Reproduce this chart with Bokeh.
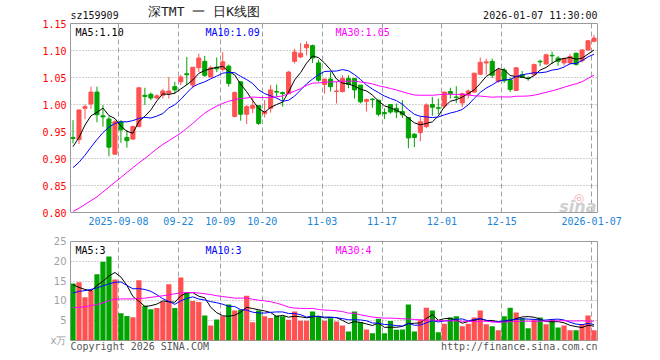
from bokeh.plotting import figure
from bokeh.models import Range1d, FixedTicker, Label, ColumnDataSource, PrintfTickFormatter, LinearAxis
from bokeh.layouts import column
from bokeh.embed import file_html
from bokeh.resources import INLINE

# ---------------- data ----------------
symbol = "sz159909"
title_text = "深TMT 一 日K线图"
timestamp = "2026-01-07 11:30:00"

date_labels = ["2025-09-08", "09-22", "10-09", "10-20", "11-03", "11-17", "12-01", "12-15", "2026-01-07"]
date_index = [8, 18, 25, 32, 42, 52, 62, 72, 87]

price_ticks = [0.80, 0.85, 0.90, 0.95, 1.00, 1.05, 1.10, 1.15]
price_grid = [0.85, 0.90, 0.95, 1.00, 1.05, 1.10]
volume_ticks = [0, 5, 10, 15, 20, 25]
volume_grid = [5, 10, 15, 20]
volume_unit = "x万"

opens = [0.939, 0.935, 0.993, 1.001, 1.023, 0.979, 0.973, 0.908, 0.968, 0.939,
         0.936, 0.959, 1.017, 1.019, 1.012, 1.017, 1.021, 1.033, 1.042, 1.057,
         1.036, 1.068, 1.080, 1.051, 1.069, 1.065, 1.071, 0.978, 1.042, 0.982,
         0.993, 0.998, 0.983, 0.993, 1.024, 1.022, 1.020, 1.080, 1.088, 1.105,
         1.109, 1.077, 1.037, 1.047, 1.024, 1.024, 1.048, 1.048, 1.036, 1.006,
         1.010, 1.008, 0.985, 1.000, 0.993, 0.987, 0.976, 0.945, 0.948, 0.959,
         1.000, 0.994, 0.997, 1.024, 1.014, 1.003, 1.018, 1.023, 1.056, 1.077,
         1.080, 1.043, 1.064, 1.046, 1.026, 1.055, 1.049, 1.055, 1.080, 1.075,
         1.091, 1.086, 1.077, 1.077, 1.095, 1.081, 1.101, 1.117]
highs = [0.971, 0.990, 1.000, 1.033, 1.033, 0.999, 0.978, 0.971, 0.971, 0.953,
         0.961, 1.031, 1.031, 1.022, 1.019, 1.029, 1.051, 1.042, 1.055, 1.088,
         1.069, 1.094, 1.090, 1.072, 1.087, 1.097, 1.074, 1.024, 1.043, 0.999,
         1.012, 0.998, 1.008, 1.036, 1.037, 1.024, 1.062, 1.103, 1.114, 1.117,
         1.111, 1.083, 1.048, 1.060, 1.042, 1.054, 1.054, 1.048, 1.036, 1.011,
         1.012, 1.008, 0.993, 1.000, 1.002, 1.008, 0.976, 0.947, 0.978, 1.002,
         1.014, 1.011, 1.024, 1.031, 1.034, 1.022, 1.028, 1.058, 1.087, 1.085,
         1.085, 1.068, 1.068, 1.050, 1.069, 1.062, 1.052, 1.076, 1.083, 1.094,
         1.098, 1.090, 1.087, 1.094, 1.096, 1.102, 1.119, 1.129]
lows = [0.928, 0.927, 0.973, 0.992, 0.967, 0.959, 0.904, 0.907, 0.929, 0.920,
        0.934, 0.958, 0.999, 1.008, 1.010, 1.011, 1.011, 1.020, 1.036, 1.036,
        1.030, 1.060, 1.051, 1.050, 1.060, 1.061, 1.033, 0.976, 0.970, 0.964,
        0.984, 0.962, 0.976, 0.985, 1.014, 0.996, 1.019, 1.076, 1.086, 1.091,
        1.077, 1.042, 1.020, 1.024, 1.002, 1.022, 1.030, 1.011, 1.002, 0.987,
        0.994, 0.978, 0.973, 0.983, 0.975, 0.975, 0.919, 0.921, 0.932, 0.956,
        0.979, 0.982, 0.993, 1.011, 1.003, 0.995, 1.011, 1.022, 1.054, 1.055,
        1.049, 1.040, 1.040, 1.023, 1.025, 1.049, 1.044, 1.054, 1.071, 1.074,
        1.075, 1.072, 1.072, 1.074, 1.072, 1.078, 1.100, 1.115]
closes = [0.937, 0.990, 0.996, 1.023, 0.981, 0.977, 0.921, 0.968, 0.953, 0.933,
          0.959, 1.031, 1.015, 1.012, 1.016, 1.025, 1.025, 1.027, 1.051, 1.055,
          1.069, 1.086, 1.054, 1.068, 1.066, 1.079, 1.039, 1.022, 0.982, 0.996,
          0.998, 0.965, 0.987, 1.027, 1.023, 1.020, 1.060, 1.097, 1.095, 1.111,
          1.086, 1.045, 1.047, 1.033, 1.025, 1.048, 1.037, 1.027, 1.005, 1.009,
          1.009, 0.982, 0.983, 0.986, 0.986, 0.981, 0.938, 0.939, 0.968, 0.999,
          0.995, 0.993, 1.023, 1.020, 1.013, 1.020, 1.025, 1.058, 1.078, 1.079,
          1.054, 1.064, 1.044, 1.028, 1.068, 1.050, 1.048, 1.074, 1.079, 1.092,
          1.090, 1.080, 1.085, 1.089, 1.074, 1.101, 1.118, 1.123]
volumes = [14.4, 14.7, 10.9, 12.7, 16.7, 19.9, 21.2, 15.4, 6.9, 6.2,
           5.9, 15.2, 8.8, 7.9, 8.2, 9.8, 14.2, 8.2, 15.9, 12.1,
           10.0, 9.7, 6.3, 3.8, 5.3, 6.1, 9.1, 7.6, 7.75, 11.3,
           4.6, 7.6, 6.1, 5.7, 6.3, 6.1, 5.25, 7.3, 5.0, 5.0,
           7.3, 6.2, 5.0, 5.6, 4.8, 3.8, 2.3, 7.3, 4.7, 2.8,
           1.8, 5.5, 1.8, 4.9, 2.7, 2.8, 9.1, 2.3, 5.3, 8.3,
           7.6, 2.1, 4.25, 5.8, 6.1, 3.6, 4.2, 5.8, 7.6, 4.1,
           3.6, 2.6, 6.1, 8.3, 7.1, 5.6, 3.1, 5.3, 5.8, 4.1,
           5.3, 3.3, 3.8, 2.6, 2.6, 4.0, 6.3, 2.6]

# moving-average values for days whose window reaches before the visible range
ma5_head = [0.922, 0.939, 0.962, 0.979]
ma10_head = [0.883, 0.893, 0.906, 0.921, 0.935, 0.948, 0.958, 0.965, 0.968]
ma30_head = [0.802, 0.808, 0.815, 0.822, 0.829, 0.838, 0.847, 0.856, 0.865, 0.874,
             0.883, 0.892, 0.900, 0.909, 0.918, 0.926, 0.933, 0.940, 0.947, 0.956,
             0.965, 0.975, 0.984, 0.991, 0.997, 1.002, 1.006, 1.009, 1.011]
vma5_head = [14.1, 13.4, 12.9, 12.5]
vma10_head = [12.0, 12.4, 12.6, 12.9, 13.3, 13.8, 14.3, 14.7, 14.8]
vma30_head = [8.3, 8.4, 8.5, 8.8, 9.1, 9.5, 10.1, 10.4, 10.5, 10.5,
              10.5, 10.6, 10.7, 10.9, 11.1, 11.3, 11.5, 11.8, 12.0, 12.1,
              12.1, 12.0, 11.8, 11.6, 11.3, 11.1, 10.9, 10.7, 10.7]

price_ma_labels = ["MA5:1.10", "MA10:1.09", "MA30:1.05"]
volume_ma_labels = ["MA5:3", "MA10:3", "MA30:4"]
copyright_text = "Copyright 2026 SINA.COM"
url_text = "http://finance.sina.com.cn"


def moving_average(values, n, head):
    out = list(head)
    for i in range(len(head), len(values)):
        out.append(sum(values[i - n + 1:i + 1]) / n)
    return out


UP = "#ff5151"
DOWN = "#00a300"
MA_COLORS = ["#000000", "#0000ff", "#ff00ff"]
GRID = "#a0a0a0"
MONO = "DejaVu Sans Mono"
CHAR_W = 6.02  # width of one 10px monospace character

N = len(closes)
xs = list(range(N))
colors = [UP if c >= o else DOWN for o, c in zip(opens, closes)]
src = ColumnDataSource(dict(
    x=xs, open=opens, close=closes, high=highs, low=lows, vol=volumes, color=colors,
    top=[max(o, c) for o, c in zip(opens, closes)],
    bot=[min(o, c) for o, c in zip(opens, closes)],
    ma5=moving_average(closes, 5, ma5_head),
    ma10=moving_average(closes, 10, ma10_head),
    ma30=moving_average(closes, 30, ma30_head),
    vma5=moving_average(volumes, 5, vma5_head),
    vma10=moving_average(volumes, 10, vma10_head),
    vma30=moving_average(volumes, 30, vma30_head),
))

# ---------------- geometry (page pixels) ----------------
W = 660
H1, H2 = 230, 130
X0, X1 = -0.42, N - 0.42
FRAME_L, FRAME_R = 70, 597
P_TOP, P_BOT = 20, 212
V_TOP, V_BOT = 241, 340
slot = (FRAME_R - FRAME_L) / (X1 - X0)


def dx(X):
    return X0 + (X - FRAME_L) / slot


def dp(Y):
    return 1.15 - (Y - P_TOP) * 0.35 / (P_BOT - P_TOP)


def dv(Y):
    return 25 - (Y - V_TOP) * 25.0 / (V_BOT - V_TOP)


xr = Range1d(X0, X1)
tick_x = [i - 0.4 for i in date_index]


def plain_axis(ax, size="10px", font=MONO):
    ax.axis_line_color = None
    ax.major_tick_line_color = None
    ax.minor_tick_line_color = None
    ax.major_tick_out = 0
    ax.major_tick_in = 0
    ax.major_label_text_font = font
    ax.major_label_text_font_size = size


def style(p):
    p.background_fill_color = "white"
    p.border_fill_color = "white"
    p.outline_line_color = "#9a9a9a"
    p.outline_line_width = 1
    for ax in p.axis:
        plain_axis(ax)


def text_axis(p, side, centers, texts, color, size="10px", standoff=3, font=MONO):
    ticks = [dx(c) for c in centers]
    ax = LinearAxis(ticker=FixedTicker(ticks=ticks),
                    major_label_overrides={t: s for t, s in zip(ticks, texts)})
    plain_axis(ax, size, font)
    ax.major_label_text_color = color
    ax.major_label_standoff = standoff
    p.add_layout(ax, side)
    return ax


def add_label(p, X, Y, text, color="#000000", align="left", font=MONO, size="10px", style_="normal", yconv=dp):
    p.add_layout(Label(x=dx(X), y=yconv(Y), text=text, text_color=color, text_align=align,
                       text_baseline="alphabetic", text_font=font, text_font_size=size,
                       text_font_style=style_))


# ---------------- price panel ----------------
p1 = figure(width=W, height=H1, x_range=xr, y_range=Range1d(0.80, 1.15),
            output_backend="svg", toolbar_location=None,
            min_border_left=FRAME_L, min_border_right=W - FRAME_R,
            min_border_top=P_TOP, min_border_bottom=H1 - P_BOT)
style(p1)
p1.xaxis.ticker = FixedTicker(ticks=tick_x)
p1.xaxis.major_label_overrides = {t: lab for t, lab in zip(tick_x, date_labels)}
p1.xaxis.major_label_text_color = "#1a84d6"
p1.xaxis.major_label_standoff = 4
p1.yaxis.ticker = FixedTicker(ticks=price_ticks)
p1.yaxis.formatter = PrintfTickFormatter(format="%.2f")
p1.yaxis.major_label_text_color = "#ff0000"
p1.yaxis.major_label_standoff = 4
p1.xgrid.ticker = FixedTicker(ticks=tick_x)
p1.xgrid.grid_line_color = GRID
p1.xgrid.grid_line_dash = "5 3"
p1.ygrid.ticker = FixedTicker(ticks=price_grid)
p1.ygrid.grid_line_color = GRID
p1.ygrid.grid_line_dash = "1 2"

# header line (symbol / timestamp, then the chart title) drawn as tick labels of axes above
text_axis(p1, "above",
          [FRAME_L + len(symbol) * CHAR_W / 2, FRAME_R - len(timestamp) * CHAR_W / 2],
          [symbol, timestamp], "#111111", standoff=3)
text_axis(p1, "above", [203.5], [title_text], "#222222", size="13px", standoff=-12)

p1.segment(x0="x", y0="low", x1="x", y1="high", color="color", line_width=1, source=src)
p1.vbar(x="x", width=0.68, top="top", bottom="bot", fill_color="color", line_color="color",
        line_width=1, source=src)
for col, c in zip(["ma5", "ma10", "ma30"], MA_COLORS):
    p1.line("x", col, color=c, line_width=1, source=src)

for X, txt, c in zip([75, 205, 335], price_ma_labels, MA_COLORS):
    add_label(p1, X, 29.5, txt, c)
add_label(p1, 573, 197, "◎", "#f2b0b0", font="DejaVu Sans", size="12px")
add_label(p1, 596, 206, "sina", "#cfcfcf", align="right", font="DejaVu Sans", size="16px", style_="bold italic")

# ---------------- volume panel ----------------
p2 = figure(width=W, height=H2, x_range=xr, y_range=Range1d(0, 25),
            output_backend="svg", toolbar_location=None, x_axis_location=None,
            min_border_left=FRAME_L, min_border_right=W - FRAME_R,
            min_border_top=V_TOP - H1, min_border_bottom=H1 + H2 - V_BOT)
style(p2)
p2.yaxis.ticker = FixedTicker(ticks=volume_ticks)
p2.yaxis.major_label_overrides = {0: volume_unit}
p2.yaxis.major_label_text_color = "#a0a0a0"
p2.yaxis.major_label_text_font = "DejaVu Sans"
p2.yaxis.major_label_standoff = 4
p2.xgrid.ticker = FixedTicker(ticks=tick_x)
p2.xgrid.grid_line_color = GRID
p2.xgrid.grid_line_dash = "5 3"
p2.ygrid.ticker = FixedTicker(ticks=volume_grid)
p2.ygrid.grid_line_color = GRID
p2.ygrid.grid_line_dash = "1 2"

p2.vbar(x="x", width=0.87, top="vol", bottom=0, fill_color="color", line_color=None, source=src)
for col, c in zip(["vma5", "vma10", "vma30"], MA_COLORS):
    p2.line("x", col, color=c, line_width=1, source=src)

for X, txt, c in zip([75, 205, 335], volume_ma_labels, MA_COLORS):
    add_label(p2, X, 249.5, txt, c, yconv=dv)

# footer line drawn as tick labels of an axis below the volume panel
text_axis(p2, "below",
          [FRAME_L + len(copyright_text) * CHAR_W / 2, FRAME_R - len(url_text) * CHAR_W / 2],
          [copyright_text, url_text], "#555555", standoff=0)

layout = column(p1, p2)
open("out.html", "w").write(file_html(layout, INLINE))
